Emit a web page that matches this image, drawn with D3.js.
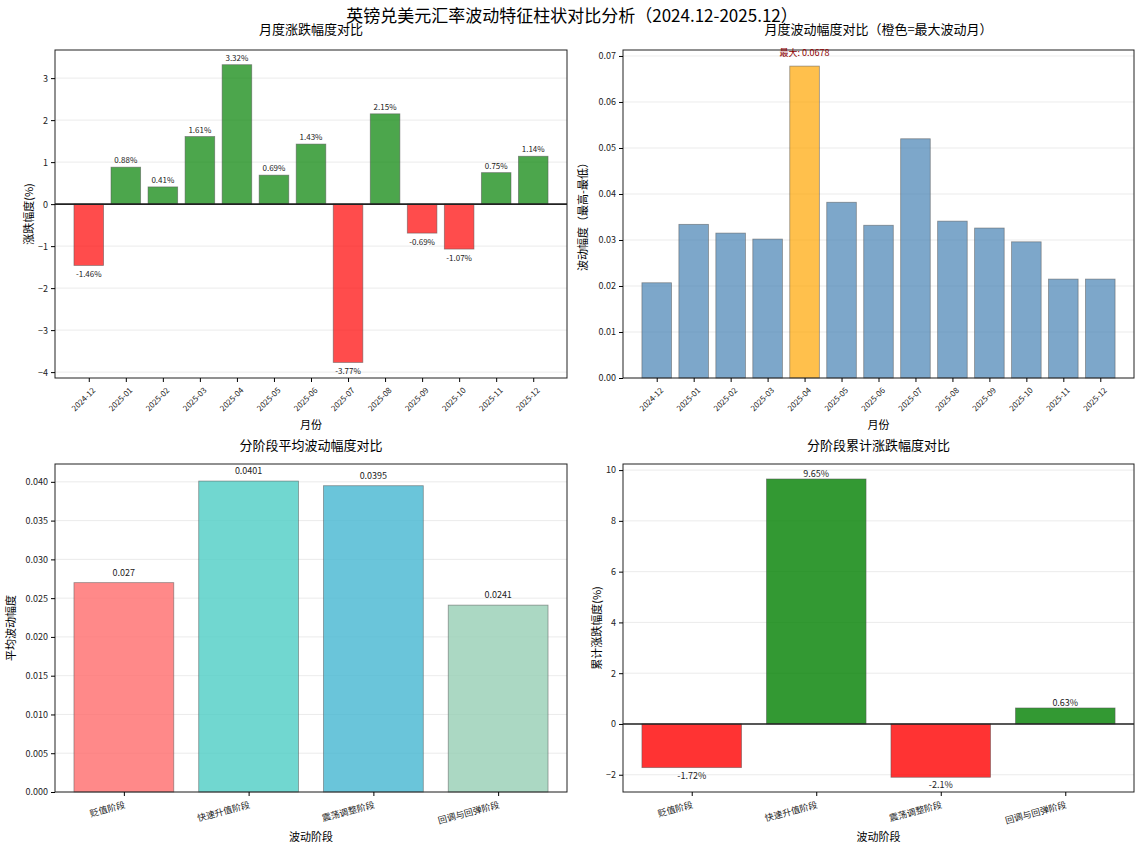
<!DOCTYPE html>
<html><head><meta charset="utf-8">
<script src="https://cdn.jsdelivr.net/npm/d3@7"></script>
<style>body{margin:0;background:#fff}text{font-family:"Noto Sans CJK SC",sans-serif}</style>
</head><body><svg width="1144" height="850"></svg>
<script>
const months = ['2024-12','2025-01','2025-02','2025-03','2025-04','2025-05','2025-06','2025-07','2025-08','2025-09','2025-10','2025-11','2025-12'];
const monthChange = [-1.46,0.88,0.41,1.61,3.32,0.69,1.43,-3.77,2.15,-0.69,-1.07,0.75,1.14];
const monthRange = [0.0207,0.0334,0.0315,0.0302,0.0678,0.0382,0.0332,0.0520,0.0341,0.0326,0.0296,0.0215,0.0215];
const stages = ['贬值阶段','快速升值阶段','震荡调整阶段','回调与回弹阶段'];
const stageRange = [0.0270,0.0401,0.0395,0.0241];
const stageCum = [-1.72,9.65,-2.10,0.63];
const stageColors = ['#FF6B6B','#4ECDC4','#45B7D1','#96CEB4'];

const svg = d3.select('svg');
svg.append('text').attr('x',572).attr('y',22).attr('text-anchor','middle')
  .attr('font-size',17).text('英镑兑美元汇率波动特征柱状对比分析（2024.12-2025.12）');

function panel(o) {
  const {x0,x1,y0,y1} = o;
  const n = o.cats.length;
  const x = d3.scaleLinear().domain([-0.4-0.04*(n-0.2), n-0.6+0.04*(n-0.2)]).range([x0,x1]);
  const y = d3.scaleLinear().domain(o.ydom).range([y1,y0]);
  const g = svg.append('g');
  // grid
  g.selectAll('.gr').data(o.ticks).join('line')
    .attr('x1',x0).attr('x2',x1).attr('y1',d=>y(d)).attr('y2',d=>y(d))
    .attr('stroke','#e6e6e6').attr('stroke-width',0.8);
  const bw = x(0.8)-x(0);
  g.selectAll('rect.b').data(o.vals).join('rect')
    .attr('x',(d,i)=>x(i-0.4)).attr('width',bw)
    .attr('y',d=>y(Math.max(0,d))).attr('height',d=>Math.abs(y(d)-y(0)))
    .attr('fill',(d,i)=>o.color(d,i)).attr('fill-opacity',o.alpha)
    .attr('stroke','#555').attr('stroke-opacity',0.6).attr('stroke-width',0.8);
  if (o.zero) g.append('line').attr('x1',x0).attr('x2',x1).attr('y1',y(0)).attr('y2',y(0))
    .attr('stroke','#222').attr('stroke-width',1.6);
  if (o.label) g.selectAll('text.l').data(o.vals).join('text')
    .attr('x',(d,i)=>x(i)).attr('y',d=>d>=0 ? y(d)-o.lpad : y(d)+o.lpad+o.lfs)
    .attr('text-anchor','middle').attr('font-size',o.lfs).attr('fill','#222')
    .text(o.label);
  // frame
  g.append('rect').attr('x',x0).attr('y',y0).attr('width',x1-x0).attr('height',y1-y0)
    .attr('fill','none').attr('stroke','#222').attr('stroke-width',1);
  // axes
  const ya = g.append('g').attr('transform',`translate(${x0},0)`)
    .call(d3.axisLeft(y).tickValues(o.ticks).tickFormat(o.tfmt).tickSize(4));
  ya.select('.domain').remove();
  ya.selectAll('text').attr('font-size',9).attr('fill','#222');
  const xa = g.append('g').attr('transform',`translate(0,${y1})`)
    .call(d3.axisBottom(x).tickValues(d3.range(n)).tickFormat(i=>o.cats[i]).tickSize(4));
  xa.select('.domain').remove();
  xa.selectAll('text').attr('font-size',o.xfs).attr('fill','#222')
    .attr('text-anchor','end')
    .attr('transform',`translate(0,4) rotate(${-o.rot})`).attr('dy','0.5em').attr('dx','-0.2em');
  g.append('text').attr('x',(x0+x1)/2).attr('y',o.tY).attr('text-anchor','middle')
    .attr('font-size',13).text(o.title);
  g.append('text').attr('x',(x0+x1)/2).attr('y',o.xlY).attr('text-anchor','middle')
    .attr('font-size',11).text(o.xlab);
  g.append('text').attr('transform',`translate(${x0-o.ylOff},${(y0+y1)/2}) rotate(-90)`)
    .attr('text-anchor','middle').attr('font-size',11).text(o.ylab);
  return {x,y,g};
}

panel({x0:55,x1:567,y0:50,y1:378,cats:months,vals:monthChange,ydom:[-4.14,3.67],
  ticks:[-4,-3,-2,-1,0,1,2,3],tfmt:d3.format('d'),zero:true,alpha:0.7,
  color:d=>d>=0?'green':'red',label:d=>d.toFixed(2)+'%',lpad:4,lfs:8,xfs:8,rot:45,
  title:'月度涨跌幅度对比',tY:34,xlab:'月份',xlY:429,ylab:'涨跌幅度(%)',ylOff:22});

const maxI = monthRange.indexOf(d3.max(monthRange));
const p2 = panel({x0:623,x1:1134,y0:50,y1:378,cats:months,vals:monthRange,ydom:[0,0.0713],
  ticks:d3.range(0,0.071,0.01),tfmt:d3.format('.2f'),zero:false,alpha:0.7,
  color:(d,i)=>i===maxI?'orange':'steelblue',label:null,xfs:8,rot:45,
  title:'月度波动幅度对比（橙色=最大波动月）',tY:34,xlab:'月份',xlY:429,ylab:'波动幅度（最高-最低）',ylOff:36});
p2.g.append('text').attr('x',p2.x(maxI)).attr('y',p2.y(monthRange[maxI])-10)
  .attr('text-anchor','middle').attr('font-size',9).attr('fill','darkred')
  .text('最大: '+monthRange[maxI].toFixed(4));

panel({x0:55,x1:567,y0:464,y1:792,cats:stages,vals:stageRange,ydom:[0,0.0423],
  ticks:d3.range(0,0.0401,0.005),tfmt:d3.format('.3f'),zero:false,alpha:0.8,
  color:(d,i)=>stageColors[i],label:d=>String(+d.toFixed(4)),lpad:7,lfs:9,xfs:9,rot:15,
  title:'分阶段平均波动幅度对比',tY:450,xlab:'波动阶段',xlY:841,ylab:'平均波动幅度',ylOff:40});

panel({x0:623,x1:1134,y0:464,y1:792,cats:stages,vals:stageCum,ydom:[-2.68,10.24],
  ticks:[-2,0,2,4,6,8,10],tfmt:d3.format('d'),zero:true,alpha:0.8,
  color:d=>d>=0?'green':'red',label:d=>(+d.toFixed(2))+'%',lpad:2,lfs:9,xfs:9,rot:15,
  title:'分阶段累计涨跌幅度对比',tY:450,xlab:'波动阶段',xlY:841,ylab:'累计涨跌幅度(%)',ylOff:22});
</script></body></html>
